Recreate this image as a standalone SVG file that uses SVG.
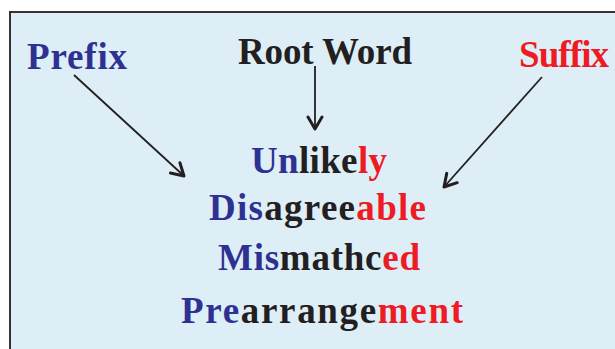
<svg xmlns="http://www.w3.org/2000/svg" width="615" height="349" viewBox="0 0 615 349">
  <style>
    .w { font-family: "Liberation Serif", "Times New Roman", serif; font-weight: bold; font-size: 37px; }
    .b { fill: #2e3192; }
    .k { fill: #231f20; }
    .r { fill: #ed1c24; }
    .ln { stroke: #231f20; stroke-width: 1.8; fill: none; }
    .hd { stroke: #231f20; stroke-width: 3; fill: none; stroke-linecap: round; stroke-linejoin: round; }
  </style>
  <defs>
    <marker id="arr" markerUnits="userSpaceOnUse" viewBox="-14 -9 16 18" markerWidth="16" markerHeight="18" refX="0" refY="0" orient="auto">
      <path class="hd" d="M-12,-7 L0,0 L-12,7"/>
    </marker>
  </defs>
  <rect x="10" y="12" width="620" height="350" fill="#ddeef7" stroke="#333333" stroke-width="2"/>

  <g id="prefix">
    <text class="w b" x="27" y="69" textLength="100" lengthAdjust="spacing">Prefix</text>
  </g>
  <g id="root-word">
    <text class="w k" x="238" y="64" textLength="174" lengthAdjust="spacing">Root Word</text>
  </g>
  <g id="suffix">
    <text class="w r" x="519" y="67" textLength="90" lengthAdjust="spacing">Suffix</text>
  </g>

  <g id="words">
    <text class="w" x="251" y="173" textLength="136" lengthAdjust="spacing"><tspan class="b">Un</tspan><tspan class="k">like</tspan><tspan class="r">ly</tspan></text>
    <text class="w" x="209" y="220" textLength="217" lengthAdjust="spacing"><tspan class="b">Dis</tspan><tspan class="k">agree</tspan><tspan class="r">able</tspan></text>
    <text class="w" x="218" y="270" textLength="202" lengthAdjust="spacing"><tspan class="b">Mis</tspan><tspan class="k">mathc</tspan><tspan class="r">ed</tspan></text>
    <text class="w" x="181" y="323" textLength="282" lengthAdjust="spacing"><tspan class="b">Pre</tspan><tspan class="k">arrange</tspan><tspan class="r">ment</tspan></text>
  </g>

  <g id="connectors">
    <line class="ln" x1="74" y1="75" x2="184" y2="176" marker-end="url(#arr)"/>
    <line class="ln" x1="315" y1="66" x2="315" y2="129" marker-end="url(#arr)"/>
    <line class="ln" x1="542" y1="77" x2="444" y2="187" marker-end="url(#arr)"/>
  </g>
</svg>
